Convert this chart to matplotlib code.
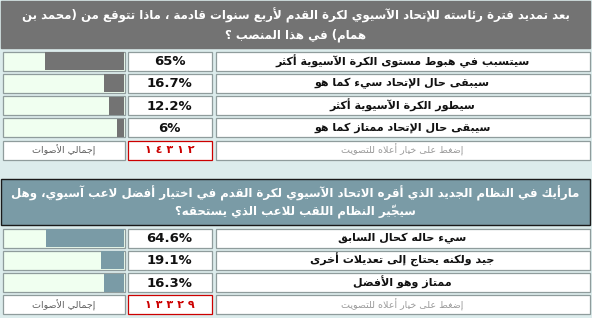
import matplotlib.pyplot as plt
from matplotlib.patches import Rectangle

# ---- data ----
q1_title = ["بعد تمديد فترة رئاسته للإتحاد الآسيوي لكرة القدم لأربع سنوات قادمة ، ماذا تتوقع من (محمد بن",
            "همام) في هذا المنصب ؟"]
q1_options = ["سيتسبب في هبوط مستوى الكرة الآسيوية أكثر",
              "سيبقى حال الإتحاد سيء كما هو",
              "سيطور الكرة الآسيوية أكثر",
              "سيبقى حال الإتحاد ممتاز كما هو"]
q1_pct = [65, 16.7, 12.2, 6]
q1_total = "١٤٣١٢"

q2_title = ["مارأيك في النظام الجديد الذي أقره الاتحاد الآسيوي لكرة القدم في اختيار أفضل لاعب آسيوي، وهل",
            "سيجيّر النظام اللقب للاعب الذي يستحقه؟"]
q2_options = ["سيء حاله كحال السابق",
              "جيد ولكنه يحتاج إلى تعديلات أخرى",
              "ممتاز وهو الأفضل"]
q2_pct = [64.6, 19.1, 16.3]
q2_total = "١٣٣٢٩"

total_label = "إجمالي الأصوات"
vote_hint = "إضغط على خيار أعلاه للتصويت"


# ---- minimal arabic shaping (matplotlib has no bidi / shaping) ----
DUAL = {'ئ': 0xFE89, 'ب': 0xFE8F, 'ت': 0xFE95, 'ث': 0xFE99, 'ج': 0xFE9D, 'ح': 0xFEA1,
        'خ': 0xFEA5, 'س': 0xFEB1, 'ش': 0xFEB5, 'ص': 0xFEB9, 'ض': 0xFEBD, 'ط': 0xFEC1,
        'ظ': 0xFEC5, 'ع': 0xFEC9, 'غ': 0xFECD, 'ف': 0xFED1, 'ق': 0xFED5, 'ك': 0xFED9,
        'ل': 0xFEDD, 'م': 0xFEE1, 'ن': 0xFEE5, 'ه': 0xFEE9, 'ي': 0xFEF1}
RIGHT = {'آ': 0xFE81, 'أ': 0xFE83, 'ؤ': 0xFE85, 'إ': 0xFE87, 'ا': 0xFE8D, 'ة': 0xFE93,
         'د': 0xFEA9, 'ذ': 0xFEAB, 'ر': 0xFEAD, 'ز': 0xFEAF, 'و': 0xFEED, 'ى': 0xFEEF}
LAM_ALEF = {'آ': 0xFEF5, 'أ': 0xFEF7, 'إ': 0xFEF9, 'ا': 0xFEFB}
MARKS = set(chr(c) for c in range(0x064B, 0x0653))
MIRROR = {'(': ')', ')': '('}


def joins(ch):
    return ch in DUAL or ch in RIGHT


def shape(text):
    # group into clusters: base char + following marks
    clusters = []
    for ch in text:
        if ch in MARKS and clusters:
            clusters[-1][1] += ch
        else:
            clusters.append([ch, ""])
    out = []
    i = 0
    n = len(clusters)
    while i < n:
        ch, marks = clusters[i]
        prev = clusters[i - 1][0] if i > 0 else None
        after_link = prev in DUAL and joins(ch) if prev else False
        nxt = clusters[i + 1][0] if i + 1 < n else None
        if ch == 'ل' and nxt in LAM_ALEF:
            base = LAM_ALEF[nxt]
            out.append([chr(base + (1 if after_link else 0)), marks + clusters[i + 1][1]])
            i += 2
            continue
        before_link = ch in DUAL and nxt is not None and joins(nxt)
        if ch in DUAL:
            b = DUAL[ch]
            if after_link and before_link:
                g = b + 3
            elif after_link:
                g = b + 1
            elif before_link:
                g = b + 2
            else:
                g = b
            out.append([chr(g), marks])
        elif ch in RIGHT:
            out.append([chr(RIGHT[ch] + (1 if after_link else 0)), marks])
        else:
            out.append([MIRROR.get(ch, ch), marks])
        i += 1
    out.reverse()
    return "".join(c + m for c, m in out)


# ---- drawing ----
BG = "#dcecec"
GRAY_HEAD = "#737373"
BLUE_HEAD = "#7a9ba6"
EMPTY = "#f0fff0"
BORDER = "#8f9c9c"
RED = "#cc0000"

BAR_X0, BAR_X1 = 2, 125
PCT_X0, PCT_X1 = 127, 212
LAB_X0, LAB_X1 = 215, 590
ROW_H = 20
ROW_STEP = 22.3


def cell(ax, x0, x1, top, face="white", edge=BORDER):
    ax.add_patch(Rectangle((x0 + 0.5, top + 0.5), x1 - x0 - 1, ROW_H - 1,
                           facecolor=face, edgecolor=edge, linewidth=0.9))


def draw_poll(ax, title, options, pct, total, head_top, head_h, first_row, head_color, bar_color, head_edge):
    ax.add_patch(Rectangle((1, head_top), 589, head_h, facecolor=head_color,
                           edgecolor=head_edge, linewidth=1.0))
    ax.text(295.5, head_top + head_h * 0.31, shape(title[0]), ha="center", va="center",
            color="white", fontsize=8.5, fontweight="bold", family="DejaVu Sans")
    ax.text(295.5, head_top + head_h * 0.72, shape(title[1]), ha="center", va="center",
            color="white", fontsize=8.5, fontweight="bold", family="DejaVu Sans")

    tops = [first_row + i * ROW_STEP for i in range(len(options))]
    for top, opt, p in zip(tops, options, pct):
        cell(ax, BAR_X0, BAR_X1, top, face=EMPTY)
        inner = BAR_X1 - BAR_X0 - 2
        w = p / 100 * inner
        ax.barh(top + ROW_H / 2, w, height=ROW_H - 2, left=BAR_X1 - 1 - w,
                color=bar_color, linewidth=0)
        cell(ax, PCT_X0, PCT_X1, top)
        ax.text((PCT_X0 + PCT_X1) / 2, top + ROW_H / 2 + 0.5, f"{p:g}%", ha="center", va="center",
                fontsize=9.5, fontweight="bold", color="#111111")
        cell(ax, LAB_X0, LAB_X1, top)
        ax.text((LAB_X0 + LAB_X1) / 2, top + ROW_H / 2, shape(opt), ha="center", va="center",
                fontsize=8, fontweight="bold", color="#111111", family="DejaVu Sans")

    top = first_row + len(options) * ROW_STEP
    cell(ax, BAR_X0, BAR_X1, top)
    ax.text((BAR_X0 + BAR_X1) / 2, top + ROW_H / 2, shape(total_label), ha="center", va="center",
            fontsize=6.8, color="#5f5f5f")
    cell(ax, PCT_X0, PCT_X1, top, edge=RED)
    ax.text((PCT_X0 + PCT_X1) / 2, top + ROW_H / 2, " ".join(total), ha="center", va="center",
            fontsize=8, fontweight="bold", color=RED)
    cell(ax, LAB_X0, LAB_X1, top)
    ax.text((LAB_X0 + LAB_X1) / 2, top + ROW_H / 2, shape(vote_hint), ha="center", va="center",
            fontsize=6.8, color="#9a9a9a")


def main():
    fig = plt.figure(figsize=(5.92, 3.18), dpi=100)
    fig.patch.set_facecolor(BG)
    ax = fig.add_axes([0, 0, 1, 1])
    ax.set_xlim(0, 592)
    ax.set_ylim(318, 0)
    ax.axis("off")

    draw_poll(ax, q1_title, q1_options, q1_pct, q1_total, 1, 47, 51,
              GRAY_HEAD, GRAY_HEAD, GRAY_HEAD)
    draw_poll(ax, q2_title, q2_options, q2_pct, q2_total, 179, 46, 228,
              BLUE_HEAD, BLUE_HEAD, "#1a1a1a")

    fig.savefig("out.png", dpi=100, facecolor=BG)


if __name__ == "__main__":
    main()
